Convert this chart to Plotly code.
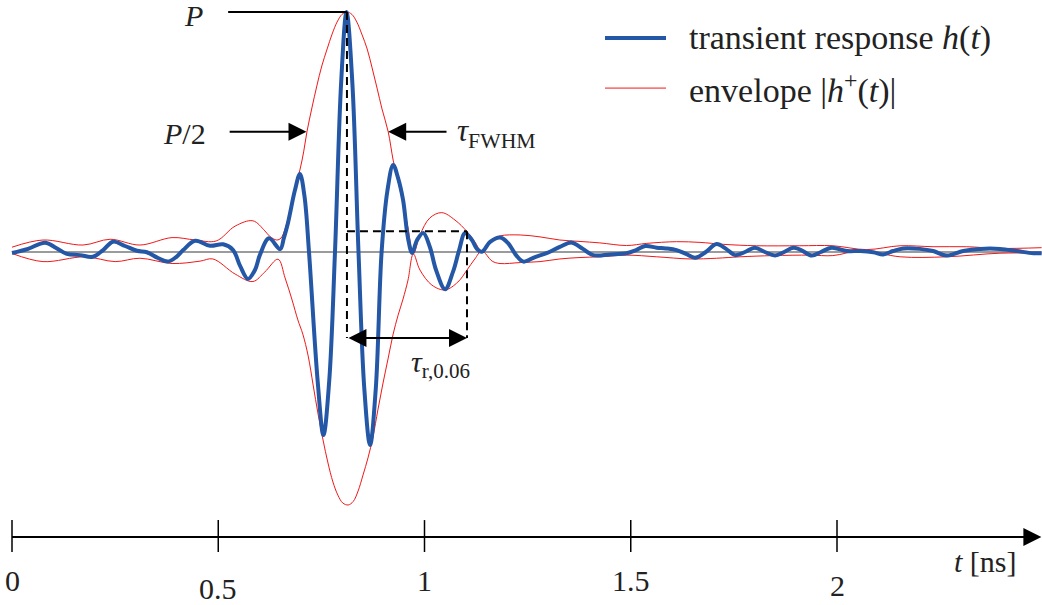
import plotly.graph_objects as go

# ---- data (t in ns, amplitude normalised to peak P = 1) ----
t_h = [0.000, 0.039, 0.080, 0.107, 0.133, 0.165, 0.196, 0.221, 0.245, 0.274,
       0.303, 0.327, 0.354, 0.378, 0.398, 0.415, 0.444, 0.480, 0.512, 0.536,
       0.553, 0.572, 0.589, 0.601, 0.623, 0.650, 0.659, 0.669, 0.686, 0.698,
       0.709, 0.720, 0.741, 0.755, 0.769, 0.783, 0.798, 0.811, 0.825, 0.840,
       0.854, 0.868, 0.882, 0.896, 0.910, 0.924, 0.936, 0.948, 0.960, 0.970,
       0.982, 0.997, 1.013, 1.028, 1.050, 1.069, 1.084, 1.098, 1.115, 1.127,
       1.139, 1.159, 1.183, 1.202, 1.222, 1.240, 1.268, 1.296, 1.328, 1.357,
       1.384, 1.409, 1.450, 1.490, 1.513, 1.535, 1.563, 1.585, 1.611, 1.634,
       1.656, 1.682, 1.708, 1.731, 1.753, 1.777, 1.801, 1.825, 1.850, 1.872,
       1.894, 1.913, 1.939, 1.961, 1.987, 2.024, 2.056, 2.088, 2.112, 2.136,
       2.161, 2.201, 2.233, 2.266, 2.306, 2.347, 2.395, 2.436, 2.476, 2.496]
h_vals = [-0.004, 0.013, 0.039, 0.017, -0.008, -0.013, -0.020, 0.008, 0.043, 0.025,
          0.005, -0.001, -0.025, -0.040, -0.021, 0.008, 0.047, 0.026, 0.032, 0.008,
          -0.058, -0.112, -0.075, -0.012, 0.057, 0.012, 0.058, 0.121, 0.258, 0.325,
          0.233, 0.000, -0.538, -0.763, -0.538, 0.000, 0.708, 1.000, 0.708, 0.000,
          -0.567, -0.804, -0.567, 0.000, 0.254, 0.363, 0.308, 0.217, 0.058, -0.004,
          0.050, 0.079, 0.021, -0.075, -0.155, -0.083, 0.008, 0.078, 0.050, 0.013,
          0.001, 0.042, 0.060, 0.038, -0.013, -0.040, -0.021, -0.005, 0.021, 0.039,
          0.013, -0.013, -0.010, -0.005, 0.008, 0.025, 0.018, 0.015, 0.008, -0.008,
          -0.024, 0.000, 0.033, 0.013, -0.013, 0.000, 0.018, 0.000, -0.015, 0.000,
          0.018, 0.008, -0.015, 0.000, 0.018, 0.004, 0.004, -0.001, -0.010, 0.004,
          0.015, 0.013, 0.004, -0.015, 0.004, 0.013, 0.013, 0.004, -0.005, -0.005]

t_env_up = [0.000, 0.075, 0.172, 0.238, 0.310, 0.388, 0.444, 0.495, 0.541, 0.584,
            0.613, 0.625, 0.642, 0.652, 0.662, 0.674, 0.686, 0.698, 0.707, 0.715,
            0.727, 0.739, 0.751, 0.764, 0.776, 0.788, 0.800, 0.812, 0.824, 0.836,
            0.848, 0.861, 0.873, 0.885, 0.897, 0.912, 0.924, 0.936, 0.948, 0.960,
            0.973, 0.989, 1.013, 1.042, 1.074, 1.103, 1.122, 1.139, 1.164, 1.183,
            1.232, 1.280, 1.328, 1.377, 1.425, 1.490, 1.539, 1.611, 1.668, 1.724,
            1.805, 1.910, 1.990, 2.072, 2.153, 2.233, 2.314, 2.395, 2.496]
env_up = [0.020, 0.050, 0.029, 0.053, 0.029, 0.060, 0.050, 0.046, 0.108, 0.130,
          0.088, 0.065, 0.050, 0.058, 0.096, 0.175, 0.267, 0.342, 0.417, 0.501,
          0.600, 0.692, 0.775, 0.846, 0.908, 0.958, 0.990, 1.000, 0.990, 0.958,
          0.908, 0.846, 0.767, 0.683, 0.596, 0.501, 0.383, 0.292, 0.204, 0.100,
          -0.008, 0.071, 0.142, 0.164, 0.133, 0.085, 0.042, 0.004, 0.050, 0.067,
          0.071, 0.063, 0.050, 0.044, 0.038, 0.027, 0.036, 0.043, 0.040, 0.032,
          0.026, 0.026, 0.026, 0.010, 0.026, 0.022, 0.022, 0.015, 0.018]

t_env_lo = [0.000, 0.075, 0.177, 0.250, 0.310, 0.388, 0.456, 0.487, 0.541, 0.584,
            0.613, 0.645, 0.662, 0.679, 0.693, 0.705, 0.718, 0.730, 0.742, 0.754,
            0.766, 0.778, 0.790, 0.802, 0.815, 0.827, 0.839, 0.851, 0.863, 0.875,
            0.887, 0.899, 0.912, 0.924, 0.936, 0.948, 0.960, 0.973, 0.989, 1.018,
            1.050, 1.081, 1.103, 1.122, 1.139, 1.164, 1.183, 1.232, 1.280, 1.328,
            1.377, 1.425, 1.490, 1.563, 1.644, 1.708, 1.765, 1.845, 1.935, 1.990,
            2.061, 2.153, 2.266, 2.395, 2.496]
env_lo = [-0.006, -0.040, -0.020, -0.040, -0.026, -0.048, -0.038, -0.029, -0.092, -0.123,
          -0.083, -0.030, -0.108, -0.200, -0.283, -0.342, -0.433, -0.554, -0.675, -0.783,
          -0.879, -0.958, -1.013, -1.046, -1.054, -1.040, -0.996, -0.929, -0.858, -0.771,
          -0.658, -0.550, -0.442, -0.342, -0.263, -0.196, -0.117, -0.008, -0.075, -0.138,
          -0.158, -0.125, -0.075, -0.029, 0.004, -0.038, -0.048, -0.044, -0.040, -0.029,
          -0.023, -0.020, -0.013, -0.020, -0.029, -0.026, -0.020, -0.015, -0.013, -0.015,
          0.006, -0.020, -0.020, -0.005, -0.005]

tick_vals = [0, 0.5, 1, 1.5, 2]
tick_text = ["0", "0.5", "1", "1.5", "2"]
t_peak = 0.812       # time of peak P
t_ring = 1.103       # end of ringing time tau_r,0.06
level_r = 0.086      # threshold level of dashed box
t_fwhm = [0.714, 0.912]
series_names = ["transient response <i>h</i>(<i>t</i>)", "envelope |<i>h</i><sup>+</sup>(<i>t</i>)|"]

BLUE = "#2457a6"
RED = "#f01818"
FONT = "Liberation Serif"

fig = go.Figure()
fig.add_trace(go.Scatter(x=t_env_lo, y=env_lo, mode="lines", showlegend=False,
                         line=dict(color=RED, width=1, shape="spline", smoothing=1)))
fig.add_trace(go.Scatter(x=t_env_up, y=env_up, mode="lines", name=series_names[1], showlegend=False,
                         line=dict(color=RED, width=1, shape="spline", smoothing=1)))
fig.add_trace(go.Scatter(x=t_h, y=h_vals, mode="lines", name=series_names[0], showlegend=False,
                         line=dict(color=BLUE, width=4, shape="spline", smoothing=1)))

shapes = []
# baseline
shapes.append(dict(type="line", x0=0, x1=t_h[-1], y0=0, y1=0, xref="x", yref="y",
                   line=dict(color="#7a7a7a", width=1.5), layer="below"))
# P line
shapes.append(dict(type="line", x0=0.524, x1=t_peak, y0=1.0, y1=1.0,
                   line=dict(color="black", width=2)))
# dashed box
dash = "8px,5px"
shapes.append(dict(type="line", x0=t_peak, x1=t_peak, y0=1.0, y1=-0.358,
                   line=dict(color="black", width=2, dash=dash)))
shapes.append(dict(type="line", x0=t_peak, x1=t_ring, y0=level_r, y1=level_r,
                   line=dict(color="black", width=2, dash=dash)))
shapes.append(dict(type="line", x0=t_ring, x1=t_ring, y0=level_r, y1=-0.358,
                   line=dict(color="black", width=2, dash=dash)))
# time axis line and ticks
AX_Y = -1.1875
shapes.append(dict(type="line", x0=0, x1=2.47, y0=AX_Y, y1=AX_Y,
                   line=dict(color="black", width=2)))
for tv in tick_vals:
    shapes.append(dict(type="line", x0=tv, x1=tv, y0=-1.117, y1=-1.25,
                       line=dict(color="black", width=1.5)))
# legend samples
shapes.append(dict(type="line", x0=1.4376, x1=1.5855, y0=0.892, y1=0.892,
                   line=dict(color=BLUE, width=4)))
shapes.append(dict(type="line", x0=1.4376, x1=1.5855, y0=0.683, y1=0.683,
                   line=dict(color=RED, width=1)))

ann = []
def text(x, y, s, size, xanchor="center"):
    ann.append(dict(x=x, y=y, text=s, showarrow=False, xanchor=xanchor, yanchor="middle",
                    font=dict(family=FONT, size=size, color="#222")))

def arrow(x, y, ax, ay, both=False):
    d = dict(x=x, y=y, ax=ax, ay=ay, axref="x", ayref="y", xref="x", yref="y", text="",
             showarrow=True, arrowhead=2, arrowsize=1.8, arrowwidth=2, arrowcolor="black")
    if both:
        d.update(arrowside="end+start", startarrowhead=2, startarrowsize=1.8)
    ann.append(d)

arrow(t_fwhm[0], 0.501, 0.524, 0.501)
arrow(t_fwhm[1], 0.501, 1.057, 0.501)
arrow(t_ring, -0.358, t_peak, -0.358, both=True)
arrow(2.4955, AX_Y, 2.40, AX_Y)

text(0.441, 0.985, "<i>P</i>", 30)
text(0.417, 0.495, "<i>P</i>/2", 30)
text(1.074, 0.495, "<i>τ</i><sub>FWHM</sub>", 31, "left")
text(1.038, -0.465, "<i>τ</i><sub>r,0.06</sub>", 30)
text(1.636, 0.892, series_names[0], 34, "left")
text(1.636, 0.683, series_names[1], 34, "left")
text(2.36, -1.29, "<i>t</i> [ns]", 30)

label_y = [-1.37, -1.40, -1.37, -1.37, -1.39]
for tv, tt, ly in zip(tick_vals, tick_text, label_y):
    text(tv, ly, tt, 30)

fig.update_layout(
    width=1042, height=605, margin=dict(l=0, r=0, t=0, b=0),
    paper_bgcolor="white", plot_bgcolor="white",
    xaxis=dict(range=[-0.029091, 2.496970], visible=False, fixedrange=True),
    yaxis=dict(range=[-1.470833, 1.05], visible=False, fixedrange=True),
    shapes=shapes, annotations=ann, showlegend=False,
)
fig.write_html("out.html")
